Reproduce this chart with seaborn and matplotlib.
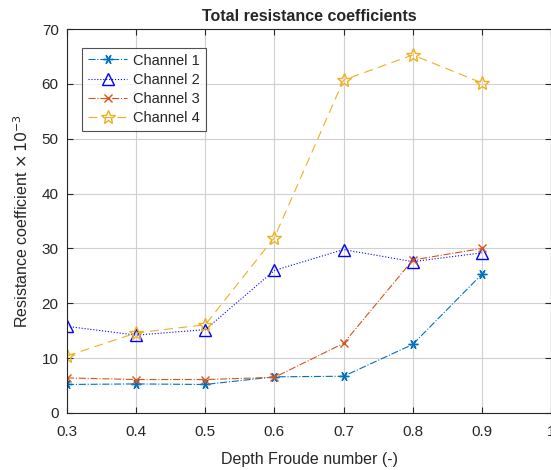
import matplotlib
matplotlib.use("Agg")
import matplotlib.pyplot as plt
import seaborn as sns
import pandas as pd

froude = [0.3, 0.4, 0.5, 0.6, 0.7, 0.8, 0.9]
channel_1 = [5.2, 5.3, 5.2, 6.6, 6.7, 12.5, 25.3]
channel_2 = [15.8, 14.2, 15.2, 26.0, 29.8, 27.6, 29.2]
channel_3 = [6.4, 6.1, 6.1, 6.5, 12.7, 27.9, 30.0]
channel_4 = [10.4, 14.6, 16.1, 32.0, 60.7, 65.3, 60.2]
names = ["Channel 1", "Channel 2", "Channel 3", "Channel 4"]

sns.set_style("ticks")
plt.rcParams["font.family"] = ["Liberation Sans", "DejaVu Sans"]

df = pd.DataFrame({"fr": froude, "Channel 1": channel_1, "Channel 2": channel_2,
                   "Channel 3": channel_3, "Channel 4": channel_4})

styles = {
    "Channel 1": dict(color="#0072BD", marker=(6, 2, 90), linestyle="-.", ms=7, mec="#0072BD"),
    "Channel 2": dict(color="#0000FF", marker="^", linestyle=":", ms=8, mfc="none", mec="#0000FF"),
    "Channel 3": dict(color="#D95319", marker="x", linestyle="-.", ms=6, mec="#D95319"),
    "Channel 4": dict(color="#EDB120", marker="*", linestyle=(0, (8, 5)), ms=10, mfc="none", mec="#EDB120"),
}

fig = plt.figure(figsize=(5.51, 4.70), dpi=100)
ax = fig.add_axes([0.1216, 0.1213, 0.8784, 0.8167])

for n in names:
    s = styles[n]
    sns.lineplot(data=df, x="fr", y=n, ax=ax, label=n, lw=0.8,
                 color=s["color"], marker=s["marker"], linestyle=s["linestyle"],
                 markersize=s["ms"], markerfacecolor=s.get("mfc", s["color"]),
                 markeredgecolor=s["mec"], markeredgewidth=1.0)

ax.set_xlim(0.3, 1.0)
ax.set_ylim(0, 70)
ax.set_xticks([0.3, 0.4, 0.5, 0.6, 0.7, 0.8, 0.9, 1.0])
ax.set_xticklabels(["0.3", "0.4", "0.5", "0.6", "0.7", "0.8", "0.9", "1"])
ax.set_yticks(range(0, 71, 10))
ax.grid(True, color="#d0d0d0", lw=0.8)
ax.tick_params(direction="in", top=True, right=True, labelsize=11, length=4, colors="#262626")
ax.tick_params(axis="x", pad=9)
ax.tick_params(axis="y", pad=6)
for sp in ax.spines.values():
    sp.set_color("#262626")
    sp.set_linewidth(0.8)

ax.set_xlabel("Depth Froude number (-)", fontsize=11.5, labelpad=9)
ax.set_ylabel("Resistance coefficient $\\times\\,10^{-3}$", fontsize=11.5, labelpad=8)
ax.set_title("Total resistance coefficients", fontsize=11.5, fontweight="bold", pad=6)

leg = ax.legend(loc="upper left", bbox_to_anchor=(0.022, 0.963), fontsize=10.5, frameon=True,
                fancybox=False, edgecolor="#262626", handlelength=2.7, borderpad=0.4,
                labelspacing=0.35, handletextpad=0.4, borderaxespad=0.3)
leg.get_frame().set_linewidth(0.8)

fig.savefig("out.png", dpi=100)
